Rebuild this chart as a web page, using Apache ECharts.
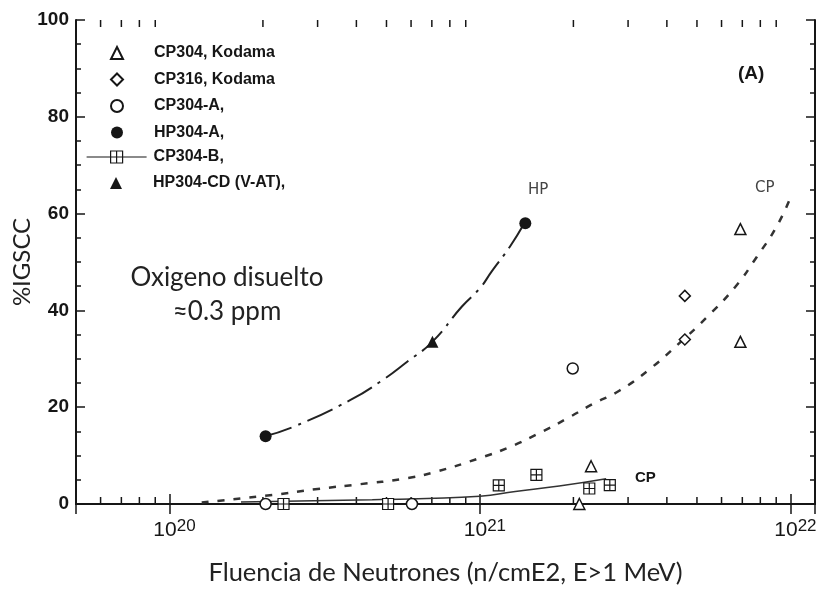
<!DOCTYPE html>
<html>
<head>
<meta charset="utf-8">
<script src="https://cdn.jsdelivr.net/npm/echarts@6/dist/echarts.min.js"></script>
<style>
  html, body { margin: 0; padding: 0; background: #fff; }
  #chart { width: 818px; height: 589px; }
</style>
</head>
<body>
<div id="chart"></div>
<script>
// data (x = neutron fluence, y = %IGSCC)
const cp304KodamaX = [6.9e21, 6.9e21, 2.28e21, 2.09e21];
const cp304KodamaY = [56.8, 33.5, 7.8, 0];
const cp316KodamaX = [4.57e21, 4.57e21];
const cp316KodamaY = [43, 34];
const cp304AX = [1.99e21, 2.04e20, 6.04e20];
const cp304AY = [28, 0, 0];
const hp304AX = [2.04e20, 1.40e21];
const hp304AY = [14, 58];
const cp304BX = [2.33e20, 5.06e20, 1.15e21, 1.52e21, 2.25e21, 2.62e21];
const cp304BY = [0, 0, 3.85, 6, 3.2, 3.9];
const hp304CDX = [7.03e20];
const hp304CDY = [33.5];

// trend curves
const hpFitX = [2.03e20, 2.52e20, 3.83e20, 4.78e20, 5.83e20, 7.02e20, 8.75e20, 1.0e21, 1.09e21, 1.25e21, 1.39e21];
const hpFitY = [14, 16, 21.5, 25.3, 29.4, 33.5, 40.8, 44.6, 48, 53.2, 58];
const cpFitX = [1.27e20, 2.17e20, 3.0e20, 4.12e20, 5.66e20, 7.06e20, 1.0e21, 1.25e21, 1.56e21, 1.9e21, 2.3e21, 2.81e21, 3.51e21, 4.38e21, 5.4e21, 6.65e21, 7.8e21, 9.04e21, 1e22];
const cpFitY = [0.3, 1.9, 3.1, 4.1, 5.2, 6.5, 9.5, 11.8, 14.7, 17.6, 20.6, 23.4, 27.8, 33.2, 38.7, 44.9, 51.1, 57.4, 63.3];
const cpSolidX = [1.7e20, 4.5e20, 1.0e21, 1.3e21, 1.8e21, 2.55e21];
const cpSolidY = [0.4, 0.9, 1.6, 2.6, 3.7, 5.2];

// axis
const xMin = 5e19, xMax = 1.2e22;
const yTicks = [0, 20, 40, 60, 80, 100];

const zip = (xs, ys) => xs.map((x, i) => [x, ys[i]]);

// log minor ticks (2..9 x 10^n)
const minorX = [];
for (let d = 19; d <= 22; d++) {
    for (let m = 2; m <= 9; m++) {
        const v = m * Math.pow(10, d);
        if (v > xMin && v < xMax) minorX.push([v, 0]);
    }
}

const INK = '#161616';
const SQ_PLUS = 'path://M0,0L10,0L10,10L0,10Z M5,0L5,10 M0,5L10,5';
const hollow = { color: '#fff', borderColor: INK, borderWidth: 1.5, opacity: 1 };
const solid = { color: INK, opacity: 1 };

const chart = echarts.init(document.getElementById('chart'));

const legendText = {
    fontFamily: 'Liberation Sans', fontSize: 16, fontWeight: 'bold',
    color: INK, lineHeight: 16
};

const supFmt = v => {
    const e = Math.log10(v);
    if (Math.abs(e - Math.round(e)) > 1e-6) return '';
    return '{b|10}{s|' + Math.round(e) + '}';
};

const option = {
    animation: false,
    backgroundColor: '#fff',
    grid: { left: 76, right: 3, top: 20, bottom: 85, outerBoundsMode: 'none', containLabel: false },
    legend: [
        {
            data: ['CP304, Kodama', 'CP316, Kodama', 'CP304-A,', 'HP304-A,'],
            orient: 'vertical', left: 110, top: 45, padding: 0,
            itemWidth: 12, itemHeight: 12, itemGap: 10.5,
            selectedMode: false,
            textStyle: Object.assign({ padding: [0, 0, 0, 26] }, legendText)
        },
        {
            data: [{
                name: 'CP304-B,',
                icon: 'path://M0,6L24,6 M36,6L60,6 M24,0L36,0L36,12L24,12Z M30,0L30,12 M24,6L36,6'
            }],
            orient: 'vertical', left: 86, top: 149, padding: 0,
            itemWidth: 60, itemHeight: 12, selectedMode: false,
            itemStyle: { borderWidth: 1.2 },
            textStyle: Object.assign({ padding: [0, 0, 0, 2] }, legendText)
        },
        {
            data: ['HP304-CD (V-AT),'],
            orient: 'vertical', left: 110, top: 175, padding: 0,
            itemWidth: 12, itemHeight: 12, selectedMode: false,
            textStyle: Object.assign({ padding: [0, 0, 0, 26] }, legendText)
        }
    ],
    xAxis: [
        {
            type: 'log', logBase: 10, min: xMin, max: xMax,
            name: 'Fluencia de Neutrones (n/cmE2, E>1 MeV)',
            nameLocation: 'middle', nameGap: 56, nameMoveOverlap: false,
            nameTextStyle: { fontFamily: 'Lato', fontSize: 25.5, color: '#222' },
            axisLine: { lineStyle: { color: INK, width: 2 } },
            axisTick: { inside: true, length: 10, lineStyle: { color: INK, width: 1.5 } },
            axisLabel: {
                formatter: supFmt, margin: 14, padding: [0, 0, 0, 10],
                showMinLabel: false, showMaxLabel: false,
                rich: {
                    b: { fontFamily: 'Liberation Sans', fontSize: 21, color: INK, lineHeight: 24 },
                    s: { fontFamily: 'Liberation Sans', fontSize: 17, color: INK, verticalAlign: 'top', lineHeight: 12 }
                }
            },
            splitLine: { show: false }
        },
        {
            type: 'log', logBase: 10, min: xMin, max: xMax, position: 'top',
            axisLine: { lineStyle: { color: INK, width: 2 } },
            axisTick: { inside: true, length: 10, lineStyle: { color: INK, width: 1.5 } },
            axisLabel: { show: false },
            splitLine: { show: false }
        }
    ],
    yAxis: [
        {
            type: 'value', min: yTicks[0], max: yTicks[yTicks.length - 1], interval: 20,
            name: '%IGSCC', nameLocation: 'middle', nameGap: 42, nameMoveOverlap: false,
            nameTextStyle: { fontFamily: 'Lato', fontSize: 24, color: '#222' },
            axisLine: { lineStyle: { color: INK, width: 2 } },
            axisTick: { inside: true, length: 9, lineStyle: { color: INK, width: 1.5 } },
            minorTick: { show: true, splitNumber: 4, length: 5, lineStyle: { color: INK, width: 1.5 } },
            axisLabel: { fontFamily: 'Liberation Sans', fontSize: 19, fontWeight: 'bold', color: INK, margin: 7 },
            splitLine: { show: false }
        },
        {
            type: 'value', min: 0, max: 100, interval: 20, position: 'right',
            axisLine: { lineStyle: { color: INK, width: 2 } },
            axisTick: { inside: true, length: 9, lineStyle: { color: INK, width: 1.5 } },
            minorTick: { show: true, splitNumber: 4, length: 5, lineStyle: { color: INK, width: 1.5 } },
            axisLabel: { show: false },
            splitLine: { show: false }
        }
    ],
    graphic: [
        { type: 'text', x: 738, y: 64, style: { text: '(A)', font: 'bold 19px "Liberation Sans"', fill: INK } },
        { type: 'text', x: 528, y: 183, style: { text: 'HP', font: '15px "DejaVu Sans"', fill: '#444' } },
        { type: 'text', x: 755, y: 181, style: { text: 'CP', font: '15px "DejaVu Sans"', fill: '#444' } },
        { type: 'text', x: 635, y: 470, style: { text: 'CP', font: 'bold 15px "Liberation Sans"', fill: INK } },
        { type: 'text', x: 227, y: 278, style: { text: 'Oxigeno disuelto', font: '26px Lato', fill: '#222', align: 'center', verticalAlign: 'middle' } },
        { type: 'text', x: 227, y: 312, style: { text: '≈0.3 ppm', font: '26px Lato', fill: '#222', align: 'center', verticalAlign: 'middle' } }
    ],
    series: [
        {
            // log minor ticks on the bottom and top frame
            type: 'custom', silent: true, z: 1,
            data: minorX,
            renderItem: (params, api) => {
                const b = api.coord([api.value(0), 0]);
                const t = api.coord([api.value(0), 100]);
                const st = { stroke: INK, lineWidth: 1.5 };
                return {
                    type: 'group',
                    children: [
                        { type: 'line', shape: { x1: b[0], y1: b[1], x2: b[0], y2: b[1] - 7 }, style: st },
                        { type: 'line', shape: { x1: t[0], y1: t[1], x2: t[0], y2: t[1] + 7 }, style: st }
                    ]
                };
            }
        },
        {
            name: 'HP fit', type: 'line', smooth: true, symbol: 'none', z: 2,
            data: zip(hpFitX, hpFitY),
            lineStyle: { color: '#222', width: 2, type: [28, 7, 3, 7] }
        },
        {
            name: 'CP fit', type: 'line', smooth: true, symbol: 'none', z: 2,
            data: zip(cpFitX, cpFitY),
            lineStyle: { color: '#333', width: 2.5, type: [7, 9] }
        },
        {
            name: 'CP solid', type: 'line', smooth: true, symbol: 'none', z: 2,
            data: zip(cpSolidX, cpSolidY),
            lineStyle: { color: '#333', width: 1.5 }
        },
        { name: 'CP304, Kodama', type: 'scatter', symbol: 'triangle', symbolSize: 11, clip: false, z: 5, itemStyle: hollow, data: zip(cp304KodamaX, cp304KodamaY) },
        { name: 'CP316, Kodama', type: 'scatter', symbol: 'diamond', symbolSize: 11, clip: false, z: 5, itemStyle: hollow, data: zip(cp316KodamaX, cp316KodamaY) },
        { name: 'CP304-A,', type: 'scatter', symbol: 'circle', symbolSize: 11, clip: false, z: 5, itemStyle: hollow, data: zip(cp304AX, cp304AY) },
        { name: 'HP304-A,', type: 'scatter', symbol: 'circle', symbolSize: 12, clip: false, z: 5, itemStyle: solid, data: zip(hp304AX, hp304AY) },
        { name: 'CP304-B,', type: 'scatter', symbol: SQ_PLUS, symbolSize: 11, clip: false, z: 5, itemStyle: { color: '#fff', borderColor: INK, borderWidth: 1.2, opacity: 1 }, data: zip(cp304BX, cp304BY) },
        { name: 'HP304-CD (V-AT),', type: 'scatter', symbol: 'triangle', symbolSize: 12, clip: false, z: 5, itemStyle: solid, data: zip(hp304CDX, hp304CDY) }
    ]
};

chart.setOption(option);
window.addEventListener('resize', () => chart.resize());
</script>
</body>
</html>
